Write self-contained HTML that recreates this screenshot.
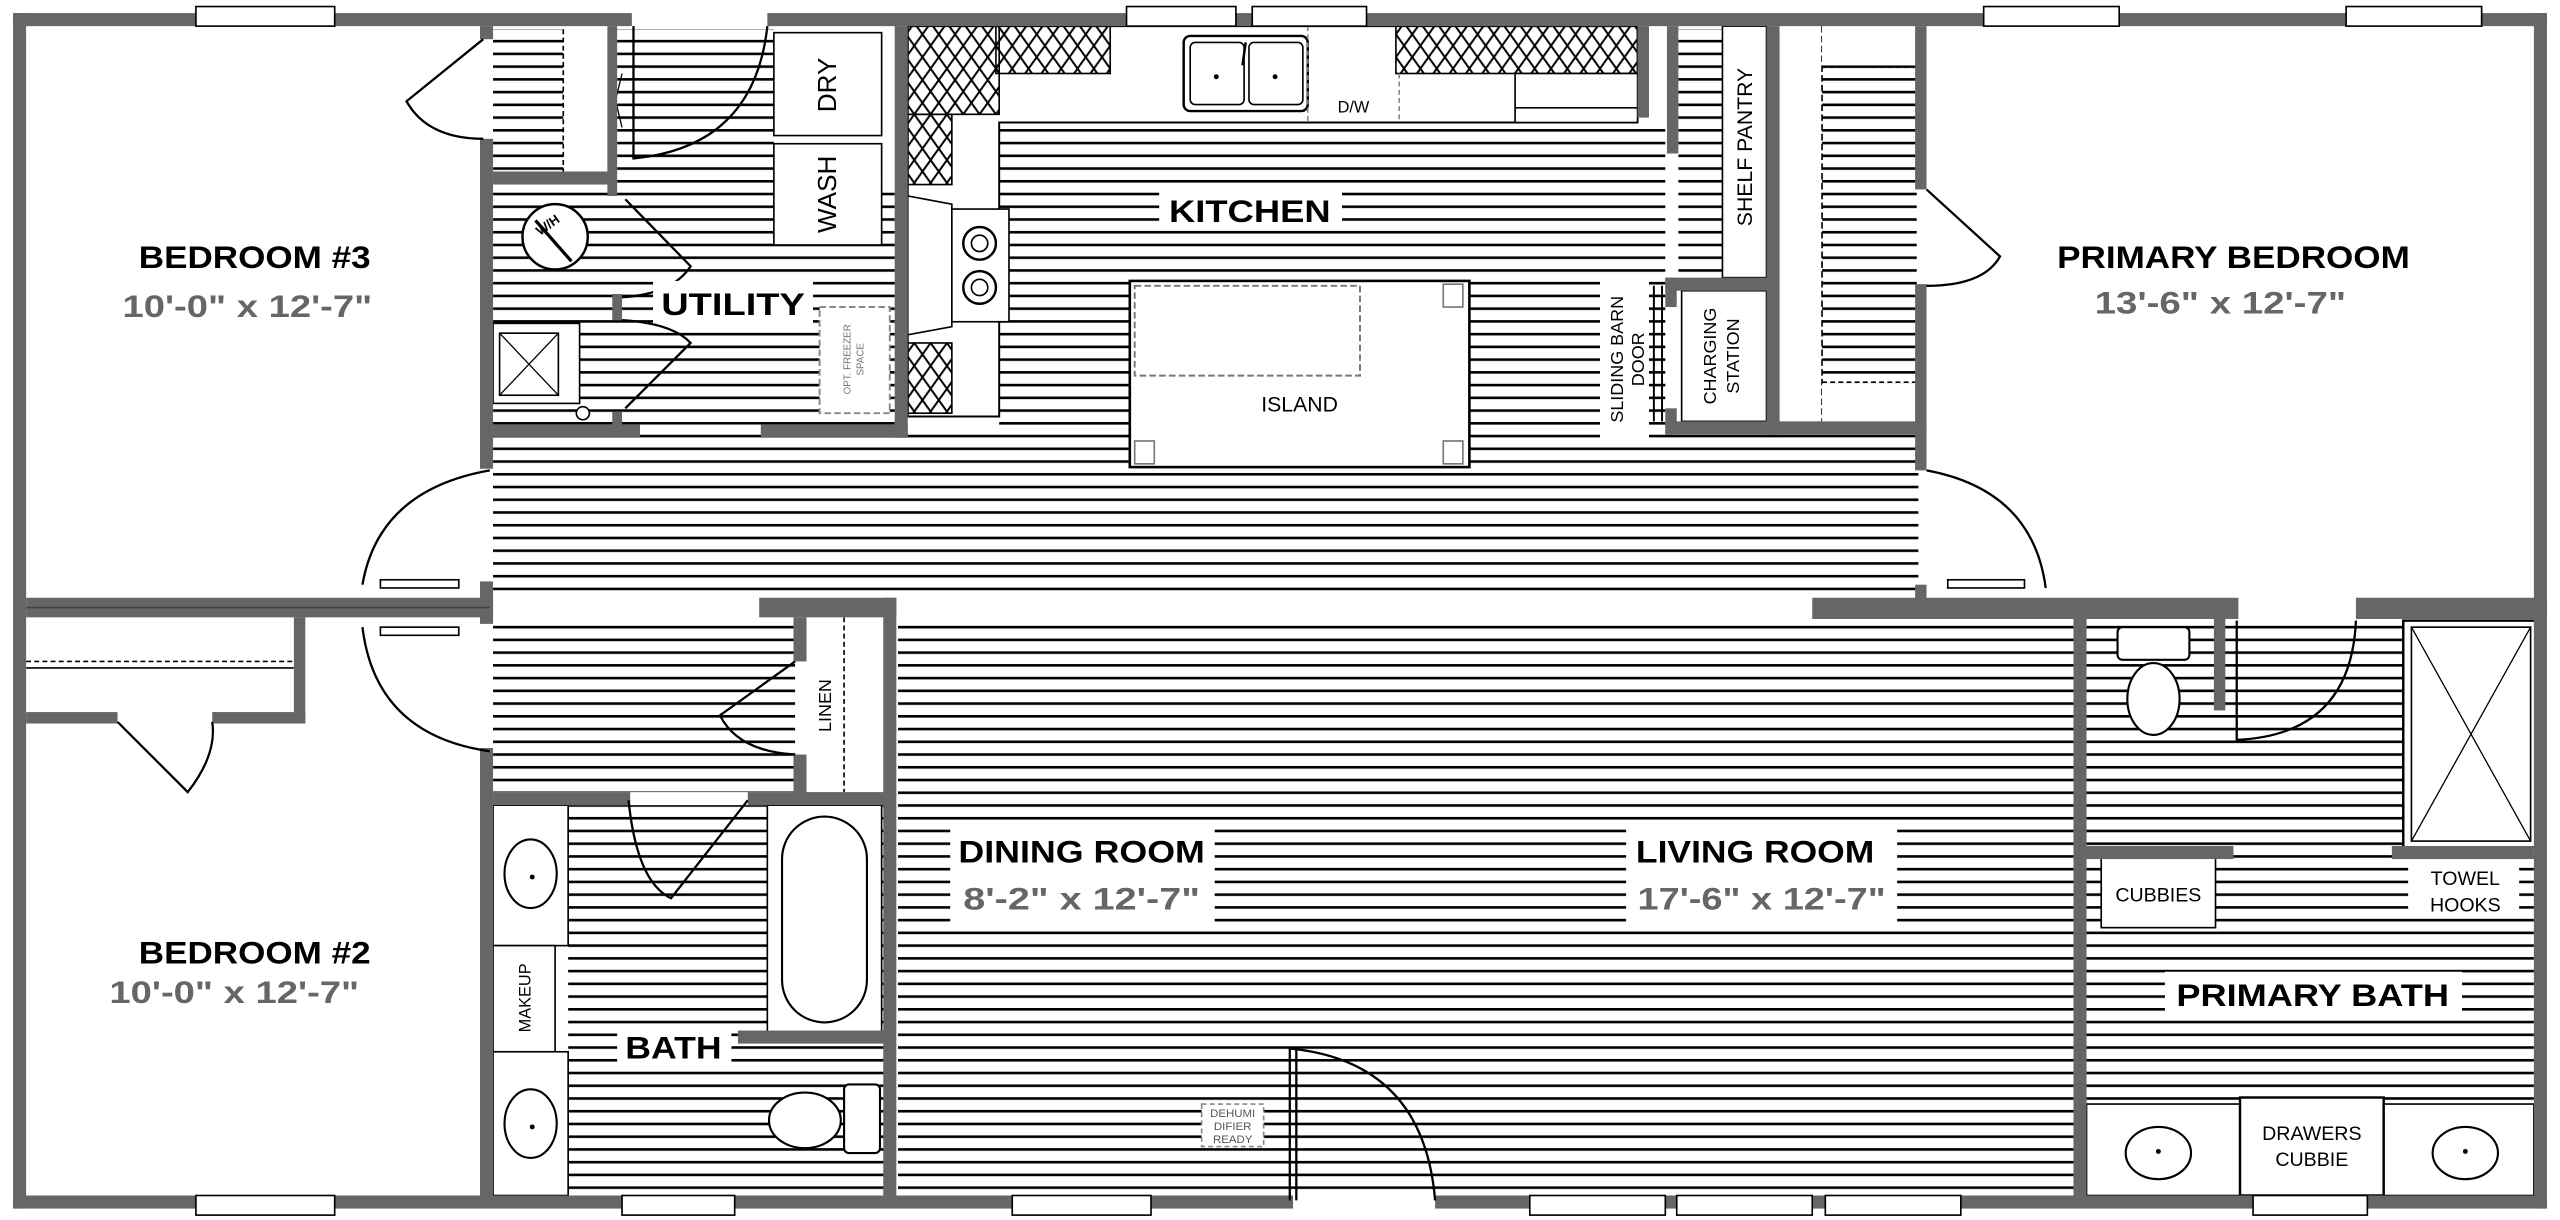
<!DOCTYPE html>
<html><head><meta charset="utf-8"><style>html,body{margin:0;padding:0;background:#fff}svg{display:block}</style></head>
<body>
<svg xmlns="http://www.w3.org/2000/svg" width="2560" height="1220" viewBox="0 0 1568 747" preserveAspectRatio="none">
<defs>
<pattern id="h" patternUnits="userSpaceOnUse" width="20" height="7.8" y="1"><rect x="0" y="0" width="20" height="1.6" fill="#000"/></pattern>
<pattern id="x" patternUnits="userSpaceOnUse" width="10" height="14"><path d="M0,0 L10,14 M10,0 L0,14" stroke="#000" stroke-width="1.2"/></pattern>
</defs>
<rect width="1568" height="747" fill="#fff"/>
<g fill="url(#h)">
<rect x="302" y="18" width="44" height="87"/>
<rect x="378" y="18" width="96" height="94"/>
<rect x="302" y="112" width="246" height="148"/>
<rect x="612" y="76" width="408" height="190"/>
<rect x="1028" y="18" width="27" height="152"/>
<rect x="1116" y="40" width="58" height="195"/>
<rect x="302" y="266" width="873" height="100"/>
<rect x="302" y="378" width="185" height="107"/>
<rect x="348" y="493" width="194" height="239"/>
<rect x="550" y="378" width="720" height="354"/>
<rect x="1278" y="380" width="274" height="296"/>
</g>
<g fill="#fff" stroke="#000" stroke-width="1">
<rect x="474" y="20" width="66" height="63"/>
<rect x="474" y="88" width="66" height="62"/>
<rect x="1055" y="16" width="27" height="154"/>
<rect x="1030" y="178" width="52" height="80"/>
<rect x="692" y="172" width="208" height="114" stroke-width="1.6"/>
<rect x="470" y="493" width="70" height="139"/>
<rect x="302" y="493" width="46" height="86"/>
<rect x="302" y="579" width="38" height="65"/>
<rect x="302" y="644" width="46" height="88"/>
<rect x="1472" y="380" width="83" height="139" stroke-width="1.5"/>
<rect x="1278" y="676" width="274" height="56"/>
<rect x="1372" y="672" width="88" height="60" stroke-width="1.5"/>
<rect x="1287" y="523" width="70" height="45"/>
</g>
<rect x="1477" y="384" width="73" height="131" fill="none" stroke="#000" stroke-width="1"/>
<path d="M1477,384 L1550,515 M1550,384 L1477,515" stroke="#000" stroke-width="0.8"/>
<path d="M556,16 L1003,16 L1003,75 L612,75 L612,255 L556,255 Z" fill="#fff" stroke="#000" stroke-width="1.2"/>
<rect x="556" y="16" width="56" height="54" fill="url(#x)" stroke="#000"/>
<rect x="610" y="16" width="70" height="29" fill="url(#x)" stroke="#000"/>
<rect x="556" y="70" width="27" height="43" fill="url(#x)" stroke="#000"/>
<rect x="556" y="210" width="27" height="43" fill="url(#x)" stroke="#000"/>
<rect x="855" y="16" width="148" height="29" fill="url(#x)" stroke="#000"/>
<rect x="928" y="45" width="75" height="30" fill="#fff" stroke="#000"/>
<line x1="928" y1="66" x2="1003" y2="66" stroke="#000"/>
<path d="M556,120 L583,125 L583,200 L556,205 Z" fill="#fff" stroke="#000"/>
<rect x="583" y="128" width="35" height="69" fill="#fff" stroke="#000"/>
<circle cx="600" cy="149" r="10" fill="none" stroke="#000" stroke-width="1.5"/><circle cx="600" cy="149" r="5" fill="none" stroke="#000"/>
<circle cx="600" cy="176" r="10" fill="none" stroke="#000" stroke-width="1.5"/><circle cx="600" cy="176" r="5" fill="none" stroke="#000"/>
<rect x="725" y="22" width="76" height="46" rx="4" fill="#fff" stroke="#000" stroke-width="1.5"/>
<rect x="729" y="26" width="33" height="38" rx="3" fill="none" stroke="#000"/><rect x="765" y="26" width="33" height="38" rx="3" fill="none" stroke="#000"/>
<circle cx="745" cy="47" r="1.5" fill="#000"/><circle cx="781" cy="47" r="1.5" fill="#000"/>
<path d="M763,26 L761,40" stroke="#000" stroke-width="1.5"/>
<line x1="801" y1="16" x2="801" y2="75" stroke="#888" stroke-dasharray="3,2"/>
<line x1="857" y1="45" x2="857" y2="75" stroke="#888" stroke-dasharray="3,2"/>
<rect x="695" y="175" width="138" height="55" fill="none" stroke="#777" stroke-width="1.2" stroke-dasharray="4,2"/>
<g fill="none" stroke="#777"><rect x="884" y="174" width="12" height="14"/><rect x="884" y="270" width="12" height="14"/><rect x="695" y="270" width="12" height="14"/></g>
<rect x="502" y="188" width="43" height="65" fill="#fff" stroke="#888" stroke-width="1.2" stroke-dasharray="4,2"/>
<circle cx="340" cy="145" r="20" fill="#fff" stroke="#000" stroke-width="1.5"/>
<line x1="328" y1="135" x2="350" y2="160" stroke="#000" stroke-width="2"/>
<rect x="302" y="198" width="53" height="49" fill="#fff" stroke="#000"/>
<rect x="306" y="204" width="36" height="38" fill="none" stroke="#000"/>
<path d="M306,204 L342,242 M342,204 L306,242" stroke="#000" stroke-width="0.8"/>
<circle cx="357" cy="253" r="4" fill="#fff" stroke="#000"/>
<rect x="345" y="18" width="27" height="87" fill="#fff"/>
<line x1="345" y1="18" x2="345" y2="105" stroke="#000" stroke-dasharray="3,2"/>
<path d="M373,45 L381,78 M381,45 L373,78" stroke="#000" stroke-width="0.8"/>
<rect x="1090" y="16" width="26" height="242" fill="#fff"/>
<line x1="1116" y1="16" x2="1116" y2="258" stroke="#000" stroke-dasharray="4,2"/>
<rect x="1116" y="16" width="58" height="24" fill="#fff"/>
<line x1="1116" y1="41" x2="1174" y2="41" stroke="#000" stroke-dasharray="3,2"/>
<rect x="1116" y="235" width="58" height="23" fill="#fff"/>
<line x1="1116" y1="234" x2="1174" y2="234" stroke="#000" stroke-dasharray="3,2"/>
<rect x="980" y="170" width="30" height="100" fill="#fff"/>
<g stroke="#000" stroke-width="1.2"><line x1="1013" y1="175" x2="1013" y2="258"/><line x1="1018" y1="175" x2="1018" y2="258"/></g>
<line x1="16" y1="405" x2="180" y2="405" stroke="#000" stroke-dasharray="3,2"/>
<line x1="16" y1="409" x2="180" y2="409" stroke="#000"/>
<rect x="494" y="378" width="48" height="107" fill="#fff"/>
<line x1="517" y1="378" x2="517" y2="485" stroke="#000" stroke-dasharray="3,2"/>
<rect x="479" y="500" width="52" height="126" rx="26" ry="26" fill="#fff" stroke="#000" stroke-width="1.3"/>
<g fill="#fff" stroke="#000" stroke-width="1.3">
<ellipse cx="325" cy="535" rx="16" ry="21"/><ellipse cx="325" cy="688" rx="16" ry="21"/>
<ellipse cx="493" cy="686" rx="22" ry="17"/><rect x="517" y="664" width="22" height="42" rx="3"/>
<ellipse cx="1319" cy="428" rx="16" ry="22"/><rect x="1297" y="384" width="44" height="20" rx="3"/>
<ellipse cx="1322" cy="706" rx="20" ry="16"/><ellipse cx="1510" cy="706" rx="20" ry="16"/>
</g>
<g fill="#000"><circle cx="326" cy="537" r="1.5"/><circle cx="326" cy="690" r="1.5"/><circle cx="1322" cy="705" r="1.5"/><circle cx="1510" cy="705" r="1.5"/></g>
<rect x="736" y="676" width="38" height="26" fill="#fff" stroke="#888" stroke-dasharray="3,2"/>
<g fill="#666">
<rect x="8" y="8" width="379" height="8"/><rect x="470" y="8" width="1090" height="8"/>
<rect x="8" y="8" width="8" height="732"/><rect x="1552" y="8" width="8" height="732"/>
<rect x="8" y="732" width="784" height="8"/><rect x="879" y="732" width="681" height="8"/>
<rect x="294" y="16" width="8" height="8"/><rect x="294" y="85" width="8" height="202"/>
<rect x="294" y="356" width="8" height="26"/><rect x="294" y="458" width="8" height="274"/>
<rect x="16" y="366" width="286" height="12"/>
<rect x="16" y="436" width="56" height="7"/><rect x="130" y="436" width="57" height="7"/><rect x="180" y="378" width="7" height="65"/>
<rect x="372" y="16" width="6" height="104"/><rect x="302" y="105" width="74" height="8"/>
<rect x="375" y="180" width="6" height="16"/><rect x="375" y="252" width="6" height="14"/>
<rect x="302" y="260" width="90" height="8"/><rect x="466" y="260" width="90" height="8"/>
<rect x="548" y="16" width="8" height="252"/>
<rect x="1021" y="16" width="7" height="78"/><rect x="1003" y="16" width="7" height="56"/>
<rect x="1082" y="16" width="8" height="250"/>
<rect x="1173" y="16" width="7" height="100"/><rect x="1173" y="174" width="7" height="114"/><rect x="1173" y="358" width="7" height="16"/>
<rect x="1020" y="258" width="160" height="8"/><rect x="1020" y="170" width="62" height="8"/>
<rect x="1020" y="170" width="7" height="18"/><rect x="1020" y="250" width="7" height="16"/>
<rect x="1110" y="366" width="261" height="13"/><rect x="1443" y="366" width="117" height="13"/>
<rect x="465" y="366" width="84" height="12"/>
<rect x="486" y="378" width="8" height="27"/><rect x="486" y="462" width="8" height="24"/>
<rect x="302" y="485" width="84" height="8"/><rect x="458" y="485" width="90" height="8"/>
<rect x="541" y="366" width="8" height="366"/>
<rect x="452" y="631" width="90" height="8"/>
<rect x="1270" y="378" width="8" height="354"/>
<rect x="1356" y="378" width="7" height="57"/>
<rect x="1278" y="518" width="90" height="8"/><rect x="1465" y="518" width="87" height="8"/>
</g>
<line x1="16" y1="372" x2="300" y2="372" stroke="#444" stroke-width="1"/>
<g fill="#fff" stroke="#000" stroke-width="1">
<rect x="120" y="4" width="85" height="12"/><rect x="690" y="4" width="67" height="12"/><rect x="767" y="4" width="70" height="12"/>
<rect x="1215" y="4" width="83" height="12"/><rect x="1437" y="4" width="83" height="12"/>
<rect x="120" y="732" width="85" height="12"/><rect x="381" y="732" width="69" height="12"/><rect x="620" y="732" width="85" height="12"/>
<rect x="937" y="732" width="83" height="12"/><rect x="1027" y="732" width="83" height="12"/><rect x="1118" y="732" width="83" height="12"/>
<rect x="1380" y="732" width="70" height="12"/>
<rect x="233" y="355" width="48" height="5"/><rect x="233" y="384" width="48" height="5"/><rect x="1193" y="355" width="47" height="5"/>
</g>
<g fill="none" stroke="#000" stroke-width="1.4">
<path d="M296,24 L249,62 Q262,85 296,85"/>
<path d="M300,288 Q232,300 222,358"/>
<path d="M222,384 Q230,450 300,460"/>
<path d="M1180,288 Q1245,300 1253,360"/>
<path d="M1180,116 L1225,157 Q1215,175 1180,175"/>
<path d="M470,16 Q462,90 388,97 L388,16"/>
<path d="M383,122 L423,163 Q412,180 381,182"/>
<path d="M381,196 Q412,198 423,210 L383,250"/>
<path d="M72,442 L115,485 Q133,462 130,442"/>
<path d="M487,405 L441,438 Q452,460 487,462"/>
<path d="M385,490 Q390,540 411,550 L458,490"/>
<path d="M790,642 Q872,650 879,735"/>
<path d="M790,642 L790,735 M794,642 L794,735"/>
<path d="M1443,380 Q1440,450 1370,453 L1370,380"/>
</g>
<g fill="#fff">
<rect x="400" y="172" width="98" height="26"/>
<rect x="710" y="115" width="112" height="26"/>
<rect x="582" y="505" width="162" height="60"/>
<rect x="996" y="505" width="166" height="60"/>
<rect x="378" y="627" width="70" height="26"/>
<rect x="1326" y="595" width="182" height="26"/>
<rect x="1475" y="527" width="68" height="34"/>
</g>
<g font-family="'Liberation Sans', sans-serif" font-weight="bold" fill="#000" font-size="19">
<text x="85" y="164" textLength="142" lengthAdjust="spacingAndGlyphs">BEDROOM #3</text>
<text x="405" y="193" textLength="88" lengthAdjust="spacingAndGlyphs">UTILITY</text>
<text x="716" y="136" textLength="99" lengthAdjust="spacingAndGlyphs">KITCHEN</text>
<text x="1260" y="164" textLength="216" lengthAdjust="spacingAndGlyphs">PRIMARY BEDROOM</text>
<text x="85" y="590" textLength="142" lengthAdjust="spacingAndGlyphs">BEDROOM #2</text>
<text x="587" y="528" textLength="151" lengthAdjust="spacingAndGlyphs">DINING ROOM</text>
<text x="1002" y="528" textLength="146" lengthAdjust="spacingAndGlyphs">LIVING ROOM</text>
<text x="383" y="648" textLength="59" lengthAdjust="spacingAndGlyphs">BATH</text>
<text x="1333" y="616" textLength="167" lengthAdjust="spacingAndGlyphs">PRIMARY BATH</text>
</g>
<g font-family="'Liberation Sans', sans-serif" font-weight="bold" fill="#666" font-size="19">
<text x="75" y="194" textLength="153" lengthAdjust="spacingAndGlyphs">10'-0" x  12'-7"</text>
<text x="1283" y="192" textLength="154" lengthAdjust="spacingAndGlyphs">13'-6" x  12'-7"</text>
<text x="67" y="614" textLength="153" lengthAdjust="spacingAndGlyphs">10'-0" x  12'-7"</text>
<text x="590" y="557" textLength="145" lengthAdjust="spacingAndGlyphs">8'-2" x  12'-7"</text>
<text x="1003" y="557" textLength="152" lengthAdjust="spacingAndGlyphs">17'-6" x  12'-7"</text>
</g>
<g font-family="'Liberation Sans', sans-serif" fill="#000" font-size="13">
<text x="796" y="252" text-anchor="middle">ISLAND</text>
<text x="829" y="69" text-anchor="middle" font-size="10">D/W</text>
<text x="1322" y="552" text-anchor="middle" font-size="12">CUBBIES</text>
<text x="1510" y="542" text-anchor="middle" font-size="12">TOWEL</text>
<text x="1510" y="558" text-anchor="middle" font-size="12">HOOKS</text>
<text x="1416" y="698" text-anchor="middle" font-size="12">DRAWERS</text>
<text x="1416" y="714" text-anchor="middle" font-size="12">CUBBIE</text>
<text x="755" y="684" text-anchor="middle" font-size="7" fill="#555">DEHUMI</text>
<text x="755" y="692" text-anchor="middle" font-size="7" fill="#555">DIFIER</text>
<text x="755" y="700" text-anchor="middle" font-size="7" fill="#555">READY</text>
<text transform="translate(512,52) rotate(-90)" text-anchor="middle" font-size="16">DRY</text>
<text transform="translate(512,119) rotate(-90)" text-anchor="middle" font-size="16">WASH</text>
<text transform="translate(1073,90) rotate(-90)" text-anchor="middle" font-size="13">SHELF PANTRY</text>
<text transform="translate(994,220) rotate(-90)" text-anchor="middle" font-size="11">SLIDING BARN</text>
<text transform="translate(1007,220) rotate(-90)" text-anchor="middle" font-size="11">DOOR</text>
<text transform="translate(1051,218) rotate(-90)" text-anchor="middle" font-size="11">CHARGING</text>
<text transform="translate(1065,218) rotate(-90)" text-anchor="middle" font-size="11">STATION</text>
<text transform="translate(509,432) rotate(-90)" text-anchor="middle" font-size="11">LINEN</text>
<text transform="translate(325,611) rotate(-90)" text-anchor="middle" font-size="10">MAKEUP</text>
<text transform="translate(521,220) rotate(-90)" text-anchor="middle" font-size="6" fill="#777">OPT. FREEZER</text>
<text transform="translate(529,220) rotate(-90)" text-anchor="middle" font-size="6" fill="#777">SPACE</text>
<text transform="translate(337,140) rotate(-35)" text-anchor="middle" font-size="8" font-weight="bold">W/H</text>
</g>
</svg>
</body></html>
